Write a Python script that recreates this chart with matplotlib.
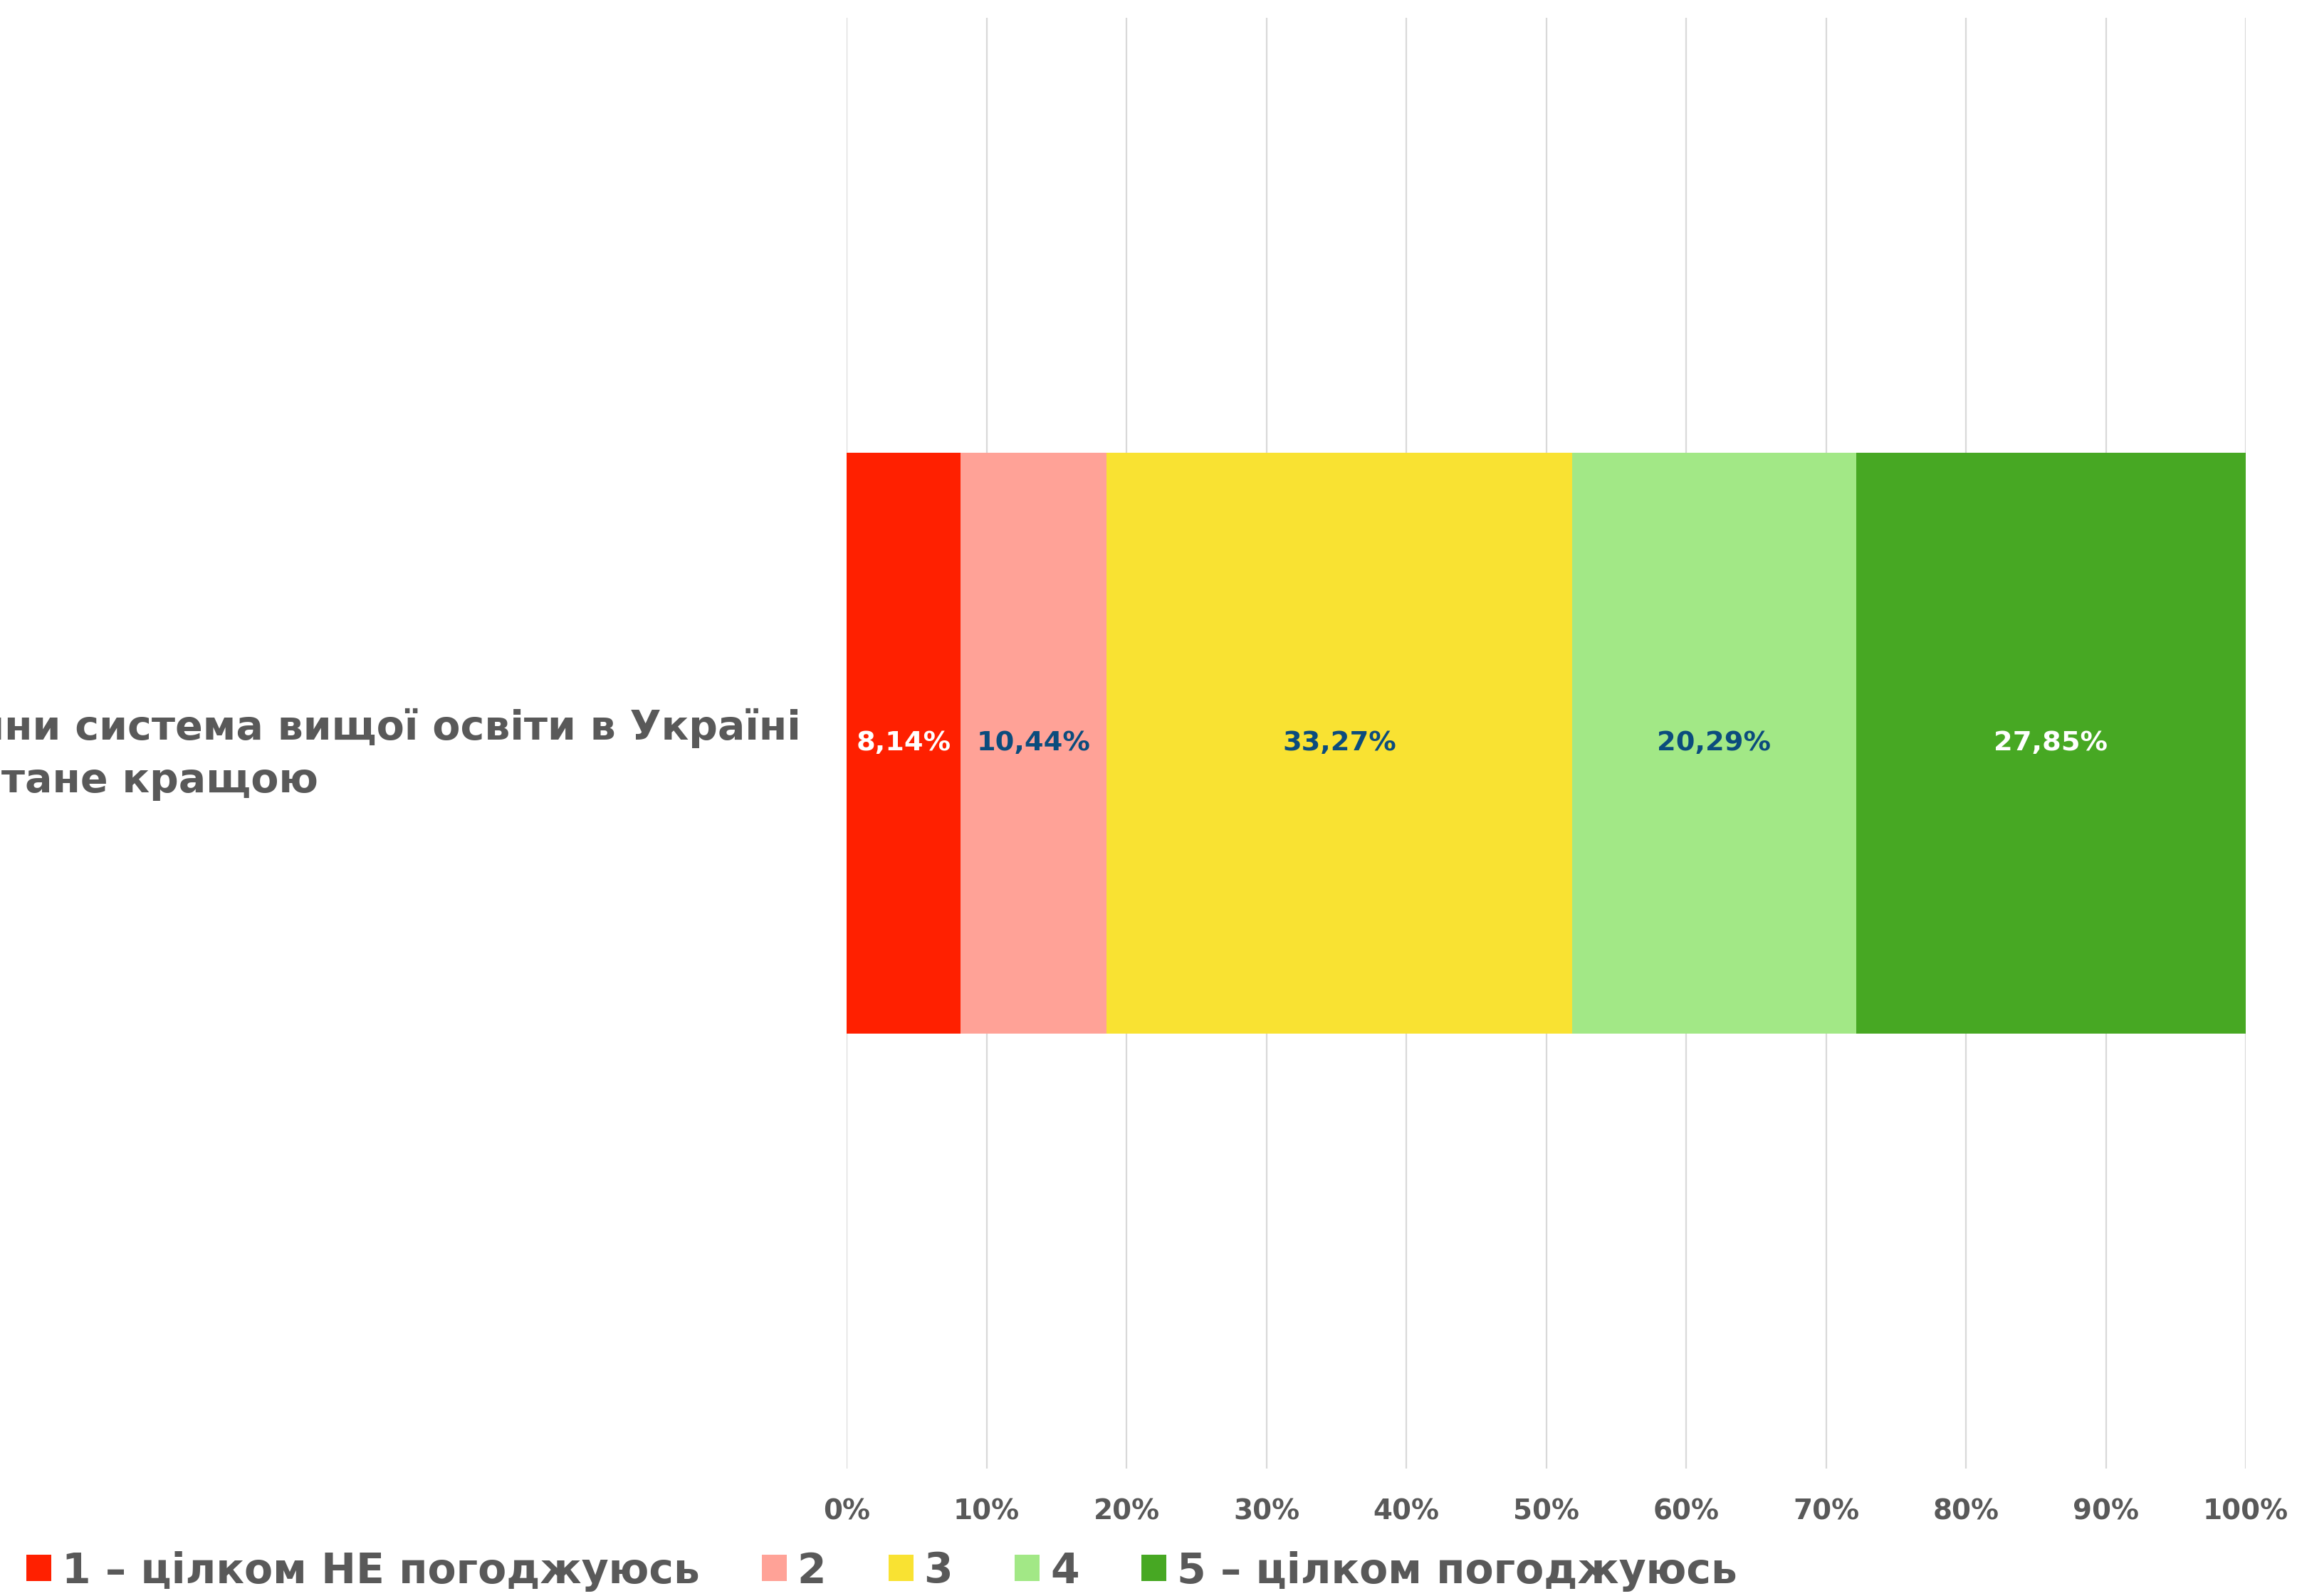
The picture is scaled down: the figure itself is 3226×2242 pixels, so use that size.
import matplotlib
matplotlib.use("Agg")
import matplotlib.pyplot as plt
from matplotlib.ticker import FuncFormatter

plt.rcParams['font.family'] = ['DejaVu Sans']

# data
question = "Після завершення війни система вищої освіти в Україні\nстане кращою"
categories = ["1 – цілком НЕ погоджуюсь", "2", "3", "4", "5 – цілком погоджуюсь"]
values = [8.14, 10.44, 33.27, 20.29, 27.85]
colors = ["#FF2000", "#FFA297", "#F9E232", "#A2E886", "#47A823"]
label_colors = ["white", "#0B4C7D", "#0B4C7D", "#0B4C7D", "white"]
ticks = [0, 10, 20, 30, 40, 50, 60, 70, 80, 90, 100]

W, H = 3226, 2242
fig = plt.figure(figsize=(W / 200, H / 200), dpi=200)
ax = fig.add_axes([1189 / W, 1 - 2063 / H, (3154 - 1189) / W, (2063 - 25) / H])

grey = "#595959"
left = 0
bars = []
for cat, v, c, lc in zip(categories, values, colors, label_colors):
    b = ax.barh(0, v, left=left, height=0.4, color=c, label=cat, zorder=3)
    bars.append(b)
    ax.text(left + v / 2, 0, f"{v:.2f}".replace(".", ",") + "%", ha="center", va="center",
            color=lc, fontsize=13.8, fontweight="bold", zorder=4)
    left += v

ax.set_xlim(0, 100)
ax.set_ylim(-0.5, 0.5)
ax.set_xticks(ticks)
ax.xaxis.set_major_formatter(FuncFormatter(lambda x, p: f"{x:.0f}%"))
ax.set_yticks([0], labels=[question])
for t in ax.get_yticklabels():
    t.set_multialignment("center")
    t.set_linespacing(1.45)
ax.tick_params(axis="y", length=0, pad=23, labelsize=20.5, labelcolor=grey)
ax.tick_params(axis="x", length=0, pad=15, labelsize=14, labelcolor=grey)
for t in ax.get_yticklabels() + ax.get_xticklabels():
    t.set_fontweight("bold")
ax.grid(axis="x", color="#D9D9D9", linewidth=0.8, zorder=0)
for s in ax.spines.values():
    s.set_visible(False)

leg = fig.legend(handles=bars, loc="center left", bbox_to_anchor=(37 / W, 1 - 2207 / H),
                 ncol=5, frameon=False, borderpad=0, borderaxespad=0,
                 handlelength=0.6, handleheight=0.6, handletextpad=0.25,
                 columnspacing=1.5, prop={"size": 21, "weight": "bold"})
for t in leg.get_texts():
    t.set_color(grey)

fig.savefig("out.png", dpi=200)
